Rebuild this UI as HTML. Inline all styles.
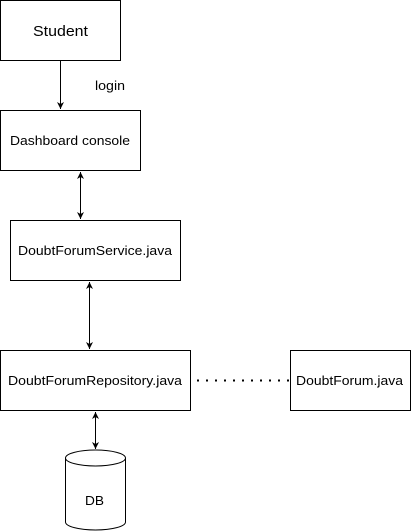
<!DOCTYPE html>
<html><head><meta charset="utf-8"><style>
html,body{margin:0;padding:0;background:#fff;width:411px;height:531px;overflow:hidden}
text{font-family:"Liberation Sans",Arial,sans-serif;fill:#000}
</style></head><body>
<svg width="411" height="531" viewBox="0 0 411 531" xmlns="http://www.w3.org/2000/svg">
<defs>
<marker id="a" markerWidth="8" markerHeight="8" refX="7" refY="4" orient="auto-start-reverse" markerUnits="userSpaceOnUse">
<path d="M0,0.5 L7,4 L0,7.5 L2,4 Z" fill="#000"/></marker>
</defs>
<g fill="#fff" stroke="#000" stroke-width="1">
<rect x="0.5" y="0.5" width="120" height="60"/>
<rect x="0.5" y="110.5" width="140" height="60"/>
<rect x="10.5" y="220.5" width="170" height="60"/>
<rect x="0.5" y="350.5" width="190" height="60"/>
<rect x="290.5" y="350.5" width="120" height="60"/>
<path d="M65.5,458 A30,8 0 0 1 125.5,458 L125.5,522 A30,8 0 0 1 65.5,522 Z"/>
<path d="M65.5,458 A30,8 0 0 0 125.5,458" fill="none"/>
</g>
<g stroke="#000" stroke-width="1" fill="none">
<line x1="60.5" y1="61" x2="60.5" y2="109" marker-end="url(#a)"/>
<line x1="80.5" y1="172" x2="80.5" y2="219" marker-start="url(#a)" marker-end="url(#a)"/>
<line x1="89.5" y1="282" x2="89.5" y2="349" marker-start="url(#a)" marker-end="url(#a)"/>
<line x1="95.5" y1="412" x2="95.5" y2="449" marker-start="url(#a)" marker-end="url(#a)"/>
<line x1="197" y1="380.5" x2="290" y2="380.5" stroke-width="2" stroke-dasharray="2,7"/>
</g>
<text x="33" y="36" font-size="15" textLength="55" lengthAdjust="spacingAndGlyphs">Student</text>
<text x="95" y="90" font-size="13" textLength="30" lengthAdjust="spacingAndGlyphs">login</text>
<text x="10" y="145" font-size="13" textLength="120" lengthAdjust="spacingAndGlyphs">Dashboard console</text>
<text x="18" y="255" font-size="13" textLength="154" lengthAdjust="spacingAndGlyphs">DoubtForumService.java</text>
<text x="8" y="385" font-size="13" textLength="174" lengthAdjust="spacingAndGlyphs">DoubtForumRepository.java</text>
<text x="296" y="385" font-size="13" textLength="107" lengthAdjust="spacingAndGlyphs">DoubtForum.java</text>
<text x="85" y="505" font-size="13" textLength="19" lengthAdjust="spacingAndGlyphs">DB</text>
</svg>
</body></html>
